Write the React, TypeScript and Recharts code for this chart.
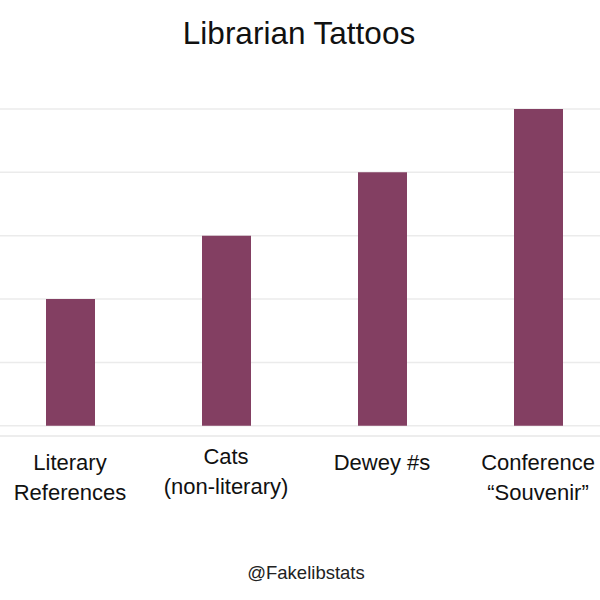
import { BarChart, Bar, XAxis, YAxis, CartesianGrid } from 'recharts';

const categories = ['Literary References', 'Cats (non-literary)', 'Dewey #s', 'Conference Souvenir'];
const tickLines = [['Literary', 'References'], ['Cats', '(non-literary)'], ['Dewey #s'], ['Conference', '“Souvenir”']];
const tattoos = [2, 3, 4, 5];
const yTicks = [0, 1, 2, 3, 4, 5];

const data = categories.map((c, i) => ({ name: c, value: tattoos[i] }));

const FONT = '"Liberation Sans", Arial, sans-serif';

function CategoryTick(props: any) {
  const { x, y, index } = props;
  const lines = tickLines[index] || [];
  // the "Cats" label sits a little higher in the original
  const shift = index === 1 ? -6 : 0;
  return (
    <g>
      {lines.map((t, j) => (
        <text
          key={j}
          x={x}
          y={y + 26 + shift + j * 30}
          textAnchor="middle"
          dominantBaseline="central"
          fontFamily={FONT}
          fontSize={22}
          fill="#111"
        >
          {t}
        </text>
      ))}
    </g>
  );
}

export default function App() {
  return (
    <div style={{ position: 'absolute', left: 0, top: 0, width: 600, height: 600, overflow: 'hidden', background: '#fff' }}>
      <div style={{ position: 'absolute', left: -8, top: 0 }}>
        <BarChart width={624} height={600} data={data} margin={{ top: 109, right: 0, bottom: 104, left: 0 }}>
          <CartesianGrid horizontal vertical={false} stroke="#ebebeb" strokeWidth={1.5} />
          <YAxis hide domain={[-0.16, 5]} ticks={yTicks} />
          <XAxis
            dataKey="name"
            height={60}
            axisLine={{ stroke: '#ececec', strokeWidth: 1.5 }}
            tickLine={false}
            tickSize={0}
            tickMargin={0}
            interval={0}
            tick={<CategoryTick />}
          />
          <Bar dataKey="value" fill="#833f62" barSize={49} isAnimationActive={false} />
        </BarChart>
      </div>
      <svg width={600} height={600} style={{ position: 'absolute', left: 0, top: 0, pointerEvents: 'none' }}>
        <text x={299} y={33} textAnchor="middle" dominantBaseline="central" fontFamily={FONT} fontSize={31.5} fill="#111">
          Librarian Tattoos
        </text>
        <text x={306} y={572} textAnchor="middle" dominantBaseline="central" fontFamily={FONT} fontSize={18.5} fill="#222">
          @Fakelibstats
        </text>
      </svg>
    </div>
  );
}
